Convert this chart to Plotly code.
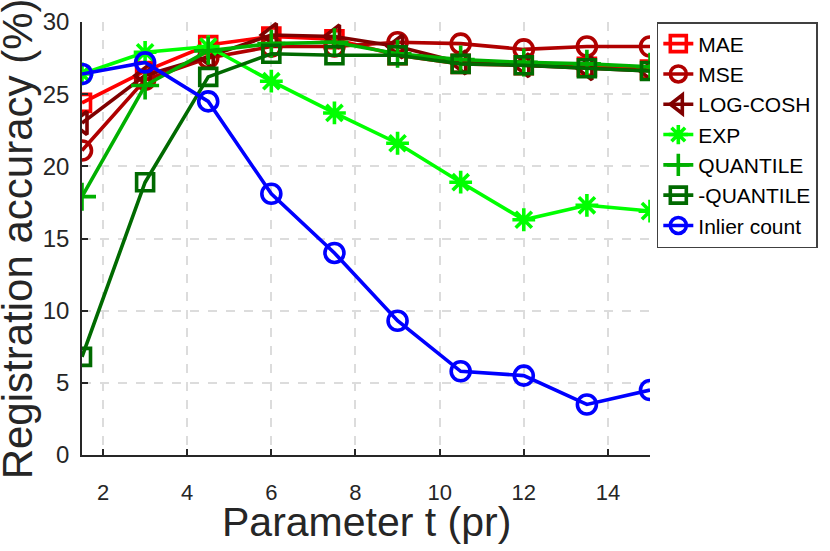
import plotly.graph_objects as go

t = [1.5, 3, 4.5, 6, 7.5, 9, 10.5, 12, 13.5, 15]
mae = [24.4, 26.6, 28.4, 29.0, 28.8, 27.7, 27.1, 27.0, 26.9, 26.7]
mse = [21.1, 26.0, 27.5, 28.3, 28.3, 28.6, 28.5, 28.1, 28.3, 28.3]
logcosh = [23.0, 26.3, 27.6, 29.1, 29.0, 28.3, 27.2, 27.0, 26.8, 26.6]
exp_ = [26.4, 27.9, 28.3, 25.9, 23.7, 21.6, 18.9, 16.3, 17.3, 16.9]
quantile = [17.9, 25.6, 28.0, 28.5, 28.6, 27.8, 27.4, 27.2, 27.1, 26.9]
neg_quantile = [6.8, 18.9, 26.2, 27.8, 27.7, 27.7, 27.1, 27.0, 26.8, 26.6]
inlier = [26.4, 27.2, 24.5, 18.1, 14.0, 9.3, 5.8, 5.5, 3.5, 4.5]

x_ticks = [2, 4, 6, 8, 10, 12, 14]
y_ticks = [0, 5, 10, 15, 20, 25, 30]

series = [
    ("MAE", mae, "#ff0000", "square-open", 17),
    ("MSE", mse, "#b00000", "circle-open", 19),
    ("LOG-COSH", logcosh, "#800000", "triangle-left-open", 20),
    ("EXP", exp_, "#00ff00", "asterisk-open", 19),
    ("QUANTILE", quantile, "#00b000", "cross-thin-open", 20),
    ("-QUANTILE", neg_quantile, "#006a00", "square-open", 17),
    ("Inlier count", inlier, "#0000ff", "circle-open", 19),
]

fig = go.Figure()
for name, vals, col, sym, sz in series:
    fig.add_trace(go.Scatter(
        x=t, y=vals, name=name, mode="lines+markers",
        line=dict(color=col, width=3.6),
        marker=dict(symbol=sym, size=sz, color=col, line=dict(color=col, width=3.6)),
    ))

font = "Liberation Sans, Arial, sans-serif"
axis_common = dict(
    showline=True, linecolor="#262626", linewidth=1.5,
    ticks="inside", ticklen=6, tickcolor="#262626", tickwidth=1.5,
    showgrid=True, gridcolor="#dcdcdc", griddash="dash", gridwidth=1.5,
    zeroline=False, mirror=False, automargin=False,
)

fig.update_layout(
    width=830, height=551,
    margin=dict(l=82, r=180, t=22, b=96),
    paper_bgcolor="white", plot_bgcolor="white",
    font=dict(family=font, color="#262626"),
    xaxis=dict(range=[1.5, 15], tickvals=x_ticks, ticklabelstandoff=17,
               tickfont=dict(family=font, size=22, color="#262626"), **axis_common),
    yaxis=dict(range=[0, 30], tickvals=y_ticks, ticklabelstandoff=6,
               tickfont=dict(family=font, size=24, color="#262626"), **axis_common),
    legend=dict(x=1.012, y=1.0, xanchor="left", yanchor="top",
                bgcolor="white", bordercolor="#404040", borderwidth=1.5,
                font=dict(family=font, size=21, color="black"),
                itemwidth=30, tracegroupgap=0),
    showlegend=True,
    annotations=[
        dict(text="Parameter t (pr)", xref="paper", yref="paper", x=0.5, y=-0.155,
             xanchor="center", yanchor="middle", showarrow=False,
             font=dict(family=font, size=41, color="#262626")),
        dict(text="Registration accuracy (%)", xref="paper", yref="paper", x=-0.113, y=0.5,
             xanchor="center", yanchor="middle", showarrow=False, textangle=-90,
             font=dict(family=font, size=42, color="#262626")),
    ],
)

# remove the browser's default body margin so the figure fills the window exactly
fig.write_html("out.html", config=dict(displayModeBar=False),
               post_script="document.body.style.margin='0';")
